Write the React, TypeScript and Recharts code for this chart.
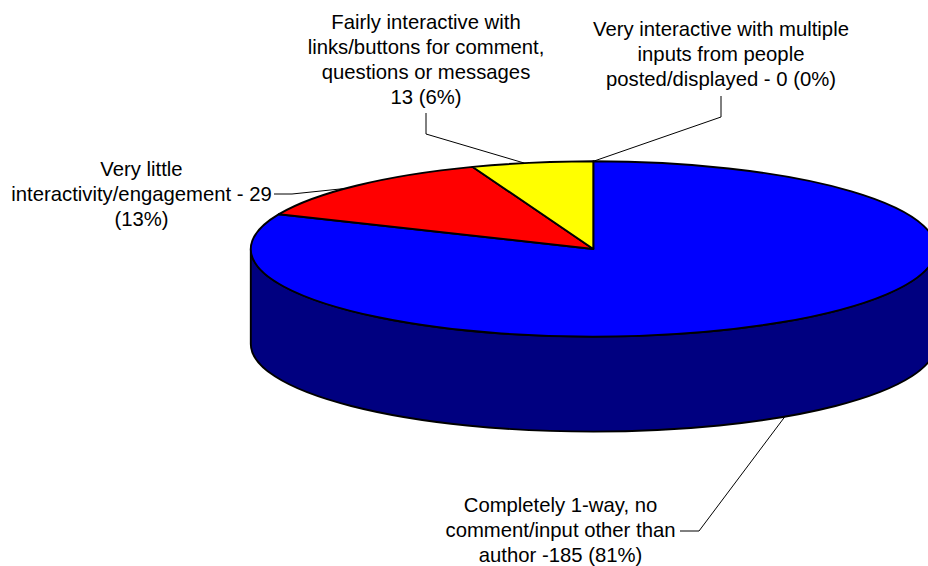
import React from "react";
import { PieChart, Pie, Cell } from "recharts";

// Responses per interactivity level, clockwise from twelve o'clock.
const categories = ["Completely 1-way", "Very little", "Fairly interactive", "Very interactive"];
const responses = [185, 29, 13, 0];
const sliceColors = ["#0000FF", "#FF0000", "#FFFF00", "#FF00FF"];
const labelLines = [
  ["Completely 1-way, no", "comment/input other than", "author -185 (81%)"],
  ["Very little", "interactivity/engagement - 29", "(13%)"],
  ["Fairly interactive with", "links/buttons for comment,", "questions or messages", "13 (6%)"],
  ["Very interactive with multiple", "inputs from people", "posted/displayed - 0 (0%)"],
];

const rows = categories.map((name, i) => ({ name, value: responses[i] }));

const WIDTH = 928;
const HEIGHT = 566;
const CX = 593.3;
const CY = 249;
const RADIUS = 342.5;
const SQUASH = 87.7 / 342.5;
const DEPTH = 95;
const WALL_COLOR = "#000080";
const LINE_HEIGHT = 25.1;

// Text block centre, first baseline, the leader's path from the text to its elbow,
// and a small angular shift of where the leader meets the rim.
const labelPlacements = [
  { x: 560.5, y: 512, leader: [[680, 531], [699, 531]], onWall: true, shift: 0.7 },
  { x: 141.5, y: 175.7, leader: [[274, 194], [292, 194]], onWall: false, shift: 2.7 },
  { x: 426, y: 28.5, leader: [[426, 113], [426, 134]], onWall: false, shift: 1.3 },
  { x: 721, y: 35.5, leader: [[721, 96], [721, 117]], onWall: false, shift: 0 },
];

const rimPoint = (cx: number, cy: number, r: number, deg: number) => {
  const t = (deg * Math.PI) / 180;
  return { x: cx + r * Math.cos(t), y: cy - r * SQUASH * Math.sin(t) };
};

// The front part of a slice's rim, as angle ranges within the lower half of the ellipse.
const frontRanges = (start: number, end: number) => {
  const out: [number, number][] = [];
  for (let k = -2; k <= 2; k++) {
    const hi = Math.min(start, 0 + 360 * k);
    const lo = Math.max(end, -180 + 360 * k);
    if (hi > lo) out.push([hi, lo]);
  }
  return out;
};

// Draws one slice as a tilted disc sector with its visible side wall.
const TiltedSlice = (props: any) => {
  const { cx, cy, outerRadius: r, startAngle, endAngle, fill } = props;
  if (Math.abs(startAngle - endAngle) < 1e-6) return null;
  const ry = r * SQUASH;
  const a = rimPoint(cx, cy, r, startAngle);
  const b = rimPoint(cx, cy, r, endAngle);
  const large = Math.abs(startAngle - endAngle) > 180 ? 1 : 0;
  const top = `M${cx},${cy} L${a.x},${a.y} A${r},${ry} 0 ${large} 1 ${b.x},${b.y} Z`;
  return (
    <g>
      {frontRanges(startAngle, endAngle).map(([hi, lo]) => {
        const p = rimPoint(cx, cy, r, hi);
        const q = rimPoint(cx, cy, r, lo);
        const d = `M${p.x},${p.y} A${r},${ry} 0 0 1 ${q.x},${q.y} L${q.x},${q.y + DEPTH} A${r},${ry} 0 0 0 ${p.x},${p.y + DEPTH} Z`;
        return <path key={hi} d={d} fill={WALL_COLOR} stroke="#000" strokeWidth={1.9} strokeLinejoin="round" />;
      })}
      <path d={top} fill={fill} stroke="#000" strokeWidth={1.9} strokeLinejoin="round" />
    </g>
  );
};

// Draws the multi-line caption and a leader line that ends at the slice's mid angle.
const SliceLabel = (props: any) => {
  const { index, midAngle, cx, cy, outerRadius } = props;
  const place = labelPlacements[index];
  const anchor = rimPoint(cx, cy, outerRadius, midAngle + place.shift);
  const end = { x: anchor.x, y: anchor.y + (place.onWall ? DEPTH : 0) };
  const points = [...place.leader, [end.x, end.y]].map((p) => p.join(",")).join(" ");
  return (
    <g>
      <polyline points={points} fill="none" stroke="#000" strokeWidth={1} />
      <text textAnchor="middle" fontFamily="'Liberation Sans', Arial, sans-serif" fontSize={20.3} fill="#000">
        {labelLines[index].map((line, i) => (
          <tspan key={line} x={place.x} y={place.y + i * LINE_HEIGHT}>
            {line}
          </tspan>
        ))}
      </text>
    </g>
  );
};

export default function App() {
  return (
    <div style={{ position: "absolute", left: 0, top: 0, width: WIDTH, height: HEIGHT, background: "#fff" }}>
      <PieChart width={WIDTH} height={HEIGHT} margin={{ top: 0, right: 0, bottom: 0, left: 0 }}>
        <Pie
          data={rows}
          dataKey="value"
          nameKey="name"
          cx={CX}
          cy={CY}
          innerRadius={0}
          outerRadius={RADIUS}
          startAngle={90}
          endAngle={-270}
          paddingAngle={0}
          isAnimationActive={false}
          shape={TiltedSlice}
          label={SliceLabel}
          labelLine={false}
        >
          {rows.map((row, i) => (
            <Cell key={row.name} fill={sliceColors[i]} />
          ))}
        </Pie>
      </PieChart>
    </div>
  );
}
